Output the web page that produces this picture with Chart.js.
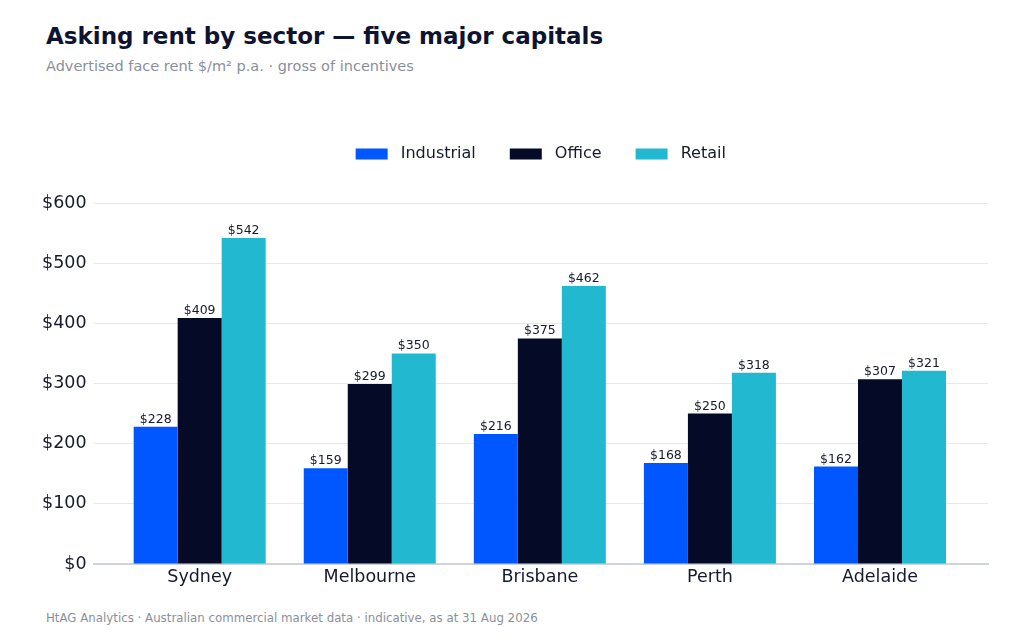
<!DOCTYPE html>
<html>
<head>
<meta charset="utf-8">
<script src="https://cdn.jsdelivr.net/npm/chart.js@4"></script>
<style>
  body { margin: 0; background: #fff; font-family: "DejaVu Sans", sans-serif; }
  #wrap { position: relative; width: 1024px; height: 640px; overflow: hidden; }
  h1 { position: absolute; left: 46px; top: 23px; margin: 0; font-size: 23px; font-weight: bold; color: #0d1430; }
  .sub { position: absolute; left: 46px; top: 58px; font-size: 14.5px; color: #8a8f9c; }
  .foot { position: absolute; left: 46px; top: 611px; font-size: 11.8px; color: #8a8f9c; }
  #box { position: absolute; left: 0; top: 90px; width: 1024px; height: 510px; }
</style>
</head>
<body>
<div id="wrap">
  <h1>Asking rent by sector — five major capitals</h1>
  <div class="sub">Advertised face rent $/m² p.a. · gross of incentives</div>
  <div id="box"><canvas id="rentChart"></canvas></div>
  <div class="foot">HtAG Analytics · Australian commercial market data · indicative, as at 31 Aug 2026</div>
</div>
<script>
const cities = ['Sydney', 'Melbourne', 'Brisbane', 'Perth', 'Adelaide'];
const industrial = [228, 159, 216, 168, 162];
const office = [409, 299, 375, 250, 307];
const retail = [542, 350, 462, 318, 321];
const yTicks = [0, 100, 200, 300, 400, 500, 600];

// bars sit on a linear x scale at the city index, so the grid can run past the outer groups
const pts = arr => arr.map((v, i) => ({ x: i, y: v }));

// value labels on top of each bar
const barLabels = {
  id: 'barLabels',
  afterDatasetsDraw(chart) {
    const c = chart.ctx;
    c.save();
    c.font = '12.5px "DejaVu Sans"';
    c.fillStyle = '#151a2c';
    c.textAlign = 'center';
    c.textBaseline = 'bottom';
    chart.data.datasets.forEach((ds, i) => {
      chart.getDatasetMeta(i).data.forEach((bar, j) => {
        c.fillText('$' + ds.data[j].y, bar.x, bar.y - 1);
      });
    });
    c.restore();
  }
};

// extra room under the legend, and centre it over the plot area
const legendSpace = {
  id: 'legendSpace',
  beforeInit(chart) {
    const fit = chart.legend.fit;
    chart.legend.fit = function () {
      fit.bind(chart.legend)();
      this.height += 31;
    };
  },
  afterLayout(chart) {
    chart.legend.left = chart.chartArea.left;
    chart.legend.right = chart.chartArea.right;
  }
};

const ctx = document.getElementById('rentChart');
new Chart(ctx, {
  type: 'bar',
  data: {
    datasets: [
      { label: 'Industrial', data: pts(industrial), backgroundColor: '#0057ff' },
      { label: 'Office', data: pts(office), backgroundColor: '#050b26' },
      { label: 'Retail', data: pts(retail), backgroundColor: '#22b8cf' }
    ]
  },
  options: {
    responsive: true,
    maintainAspectRatio: false,
    animation: false,
    layout: { padding: { left: 35, right: 36, top: 22, bottom: 9 } },
    datasets: { bar: { barPercentage: 1, categoryPercentage: 0.776 } },
    plugins: {
      legend: {
        labels: {
          boxWidth: 32, boxHeight: 11, padding: 34,
          color: '#151a2c',
          font: { family: 'DejaVu Sans', size: 16 },
          generateLabels(chart) {
            return Chart.defaults.plugins.legend.labels.generateLabels(chart)
              .map(l => ({ ...l, text: ' ' + l.text }));
          }
        }
      },
      tooltip: { enabled: false }
    },
    scales: {
      x: {
        type: 'linear',
        min: -0.624, max: 4.635,
        offset: false,
        grid: { display: false, drawTicks: false },
        border: { color: '#cdd3e0', width: 2 },
        ticks: {
          stepSize: 1, autoSkip: false, maxRotation: 0, padding: 3,
          includeBounds: false,
          color: '#151a2c',
          font: { family: 'DejaVu Sans', size: 17.5 },
          callback: v => Number.isInteger(v) ? cities[v] : ''
        }
      },
      y: {
        min: 0, max: 600,
        afterBuildTicks: axis => { axis.ticks = yTicks.map(v => ({ value: v })); },
        grid: { color: '#e6e8ee', drawTicks: false },
        border: { display: false },
        ticks: {
          padding: 7,
          color: '#151a2c',
          font: { family: 'DejaVu Sans', size: 17.5 },
          callback: v => '$' + v
        }
      }
    }
  },
  plugins: [barLabels, legendSpace]
});
</script>
</body>
</html>
